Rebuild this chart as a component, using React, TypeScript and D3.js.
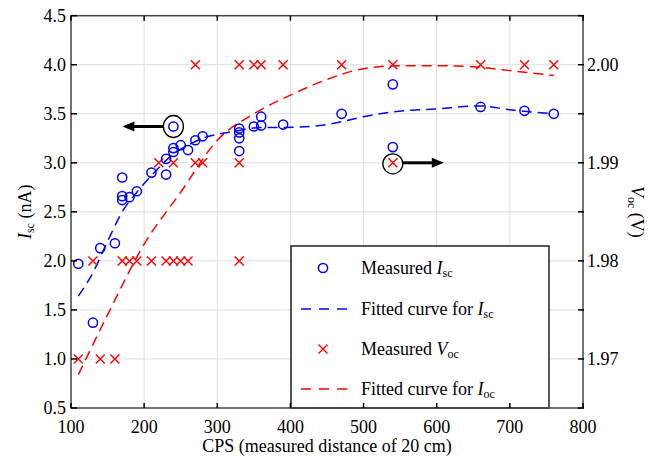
import React from 'react';
import * as d3 from 'd3';

// ---------- data ----------
const xTicks = [100, 200, 300, 400, 500, 600, 700, 800];
const yLeftTicks = [0.5, 1.0, 1.5, 2.0, 2.5, 3.0, 3.5, 4.0, 4.5];
const yRightTicks = [1.965, 1.97, 1.975, 1.98, 1.985, 1.99, 1.995, 2.0, 2.005];
const yRightLabels = [1.97, 1.98, 1.99, 2.0];

// Measured Isc (nA)
const iscCps = [110, 130, 140, 160, 170, 170, 170, 180, 190, 210, 230, 230, 240, 240, 240, 250, 260, 270, 280, 330, 330, 330, 330, 350, 360, 360, 390, 470, 540, 540, 660, 720, 760];
const iscVal = [1.97, 1.37, 2.13, 2.18, 2.85, 2.66, 2.62, 2.65, 2.71, 2.90, 3.04, 2.88, 3.15, 3.11, 3.37, 3.18, 3.13, 3.23, 3.27, 3.35, 3.31, 3.25, 3.12, 3.37, 3.47, 3.38, 3.39, 3.50, 3.80, 3.16, 3.57, 3.53, 3.50];

// Measured Voc (V)
const vocCps = [110, 140, 160, 130, 170, 180, 190, 210, 230, 240, 250, 260, 330, 220, 240, 270, 280, 330, 540, 270, 330, 350, 360, 390, 470, 540, 660, 720, 760];
const vocVal = [1.97, 1.97, 1.97, 1.98, 1.98, 1.98, 1.98, 1.98, 1.98, 1.98, 1.98, 1.98, 1.98, 1.99, 1.99, 1.99, 1.99, 1.99, 1.99, 2.0, 2.0, 2.0, 2.0, 2.0, 2.0, 2.0, 2.0, 2.0, 2.0];

// Fitted curve for Isc
const iscFitCps = [110, 130, 150, 170, 190, 210, 240, 260, 280, 300, 330, 360, 390, 440, 470, 500, 540, 600, 660, 700, 760];
const iscFitVal = [1.64, 1.88, 2.20, 2.50, 2.70, 2.87, 3.09, 3.18, 3.25, 3.29, 3.33, 3.36, 3.36, 3.38, 3.42, 3.47, 3.52, 3.55, 3.58, 3.54, 3.50];

// Fitted curve for Voc
const vocFitCps = [110, 150, 200, 250, 300, 350, 400, 450, 500, 550, 600, 650, 700, 760];
const vocFitVal = [1.9684, 1.9745, 1.9817, 1.9870, 1.9923, 1.9950, 1.9969, 1.9985, 1.9996, 1.9999, 1.9999, 1.9998, 1.9994, 1.9989];

// ---------- layout ----------
const W = 656, H = 464;
const L = 71, R = 583, T = 15.7, B = 408;
const FONT = '"Liberation Serif", "Times New Roman", serif';
const BLUE = '#0000ff';
const RED = '#ff0000';

export default function App() {
  const x = d3.scaleLinear().domain([100, 800]).range([L, R]);
  const yL = d3.scaleLinear().domain([0.5, 4.5]).range([B, T]);
  const yR = d3.scaleLinear().domain([1.965, 2.005]).range([B, T]);

  const iscLine = d3.line<number>()
    .x((_, i) => x(iscFitCps[i]))
    .y((d) => yL(d))
    .curve(d3.curveMonotoneX)(iscFitVal) as string;
  const vocLine = d3.line<number>()
    .x((_, i) => x(vocFitCps[i]))
    .y((d) => yR(d))
    .curve(d3.curveMonotoneX)(vocFitVal) as string;

  const xs = 4.5; // cross half size
  const cross = (cx: number, cy: number, key: string | number, sw = 1.4) => (
    <path key={key} d={`M${cx - xs},${cy - xs}L${cx + xs},${cy + xs}M${cx - xs},${cy + xs}L${cx + xs},${cy - xs}`} stroke={RED} strokeWidth={sw} fill="none" />
  );

  // annotation anchors
  const a1x = x(240), a1y = yL(3.37);
  const a2x = x(540), a2y = yR(1.99);

  const legX = 291, legY = 246, legW = 258, legH = B - 246;
  const rows = [268, 309, 349, 389];
  const symX = 323, txtX = 361;

  return (
    <svg width={W} height={H} style={{ position: 'absolute', left: 0, top: 0, background: '#fff' }} fontFamily={FONT}>
      <rect x={0} y={0} width={W} height={H} fill="#fff" />
      {/* grid */}
      <g stroke="#dedede" strokeWidth={1}>
        {xTicks.slice(1, -1).map((t) => (
          <line key={'gx' + t} x1={x(t)} x2={x(t)} y1={T} y2={B} />
        ))}
        {yLeftTicks.slice(1, -1).map((t) => (
          <line key={'gy' + t} x1={L} x2={R} y1={yL(t)} y2={yL(t)} />
        ))}
      </g>

      {/* fitted curves */}
      <path d={vocLine} fill="none" stroke={RED} strokeWidth={1.5} strokeDasharray="10,6" />
      <path d={iscLine} fill="none" stroke={BLUE} strokeWidth={1.5} strokeDasharray="10,6" />

      {/* measured Voc */}
      {vocCps.map((c, i) => cross(x(c), yR(vocVal[i]), 'v' + i))}
      {/* measured Isc */}
      {iscCps.map((c, i) => (
        <circle key={'i' + i} cx={x(c)} cy={yL(iscVal[i])} r={4.6} fill="none" stroke={BLUE} strokeWidth={1.5} />
      ))}

      {/* annotations */}
      <ellipse cx={a1x} cy={a1y} rx={10} ry={11} fill="none" stroke="#000" strokeWidth={1.3} />
      <line x1={a1x - 10} x2={a1x - 40} y1={a1y} y2={a1y} stroke="#000" strokeWidth={3} />
      <path d={`M${a1x - 51},${a1y}L${a1x - 39},${a1y - 5}L${a1x - 39},${a1y + 5}Z`} fill="#000" />
      <ellipse cx={a2x} cy={a2y + 1} rx={10} ry={10} fill="none" stroke="#000" strokeWidth={1.3} />
      <line x1={a2x + 10} x2={a2x + 40} y1={a2y} y2={a2y} stroke="#000" strokeWidth={3} />
      <path d={`M${a2x + 51},${a2y}L${a2x + 39},${a2y - 5}L${a2x + 39},${a2y + 5}Z`} fill="#000" />

      {/* legend */}
      <rect x={legX} y={legY} width={legW} height={legH} fill="#fff" stroke="#000" strokeWidth={1.3} />
      <circle cx={symX} cy={rows[0]} r={4.6} fill="none" stroke={BLUE} strokeWidth={1.5} />
      <line x1={301} x2={349} y1={rows[1]} y2={rows[1]} stroke={BLUE} strokeWidth={1.5} strokeDasharray="10,8" />
      {cross(symX, rows[2], 'legx')}
      <line x1={301} x2={349} y1={rows[3]} y2={rows[3]} stroke={RED} strokeWidth={1.5} strokeDasharray="10,8" />
      <g fontSize={18} fill="#000">
        <text x={txtX} y={rows[0] + 6}>Measured <tspan fontStyle="italic">I</tspan><tspan fontSize={12} dy={3}>sc</tspan></text>
        <text x={txtX} y={rows[1] + 6}>Fitted curve for <tspan fontStyle="italic">I</tspan><tspan fontSize={12} dy={3}>sc</tspan></text>
        <text x={txtX} y={rows[2] + 6}>Measured <tspan fontStyle="italic">V</tspan><tspan fontSize={12} dy={3}>oc</tspan></text>
        <text x={txtX} y={rows[3] + 6}>Fitted curve for <tspan fontStyle="italic">I</tspan><tspan fontSize={12} dy={3}>oc</tspan></text>
      </g>

      {/* frame */}
      <rect x={L} y={T} width={R - L} height={B - T} fill="none" stroke="#444" strokeWidth={1.5} />

      {/* ticks */}
      <g stroke="#000" strokeWidth={1.5}>
        {xTicks.map((t) => (
          <g key={'xt' + t}>
            <line x1={x(t)} x2={x(t)} y1={B} y2={B - 5} />
            <line x1={x(t)} x2={x(t)} y1={T} y2={T + 5} />
          </g>
        ))}
        {yLeftTicks.map((t) => (
          <line key={'ylt' + t} x1={L} x2={L + 6} y1={yL(t)} y2={yL(t)} />
        ))}
        {yRightTicks.map((t) => (
          <line key={'yrt' + t} x1={R - 5} x2={R + 1} y1={yR(t)} y2={yR(t)} />
        ))}
      </g>

      {/* tick labels */}
      <g fontSize={18} fill="#000">
        {xTicks.map((t) => (
          <text key={'xl' + t} x={x(t)} y={B + 25} textAnchor="middle">{t}</text>
        ))}
        {yLeftTicks.map((t) => (
          <text key={'yll' + t} x={L - 5} y={yL(t) + 6} textAnchor="end">{t.toFixed(1)}</text>
        ))}
        {yRightLabels.map((t) => (
          <text key={'yrl' + t} x={R + 4} y={yR(t) + 6} textAnchor="start">{t.toFixed(2)}</text>
        ))}
      </g>

      {/* axis titles */}
      <text x={(L + R) / 2} y={452} fontSize={18} textAnchor="middle">CPS (measured distance of 20 cm)</text>
      <text transform={`translate(31,${(T + B) / 2}) rotate(-90)`} fontSize={18} textAnchor="middle">
        <tspan fontStyle="italic">I</tspan><tspan fontSize={12} dy={3}>sc</tspan><tspan dy={-3}> (nA)</tspan>
      </text>
      <text transform={`translate(631,${(T + B) / 2}) rotate(90)`} fontSize={18} textAnchor="middle">
        <tspan fontStyle="italic">V</tspan><tspan fontSize={12} dy={3}>oc</tspan><tspan dy={-3}> (V)</tspan>
      </text>
    </svg>
  );
}
